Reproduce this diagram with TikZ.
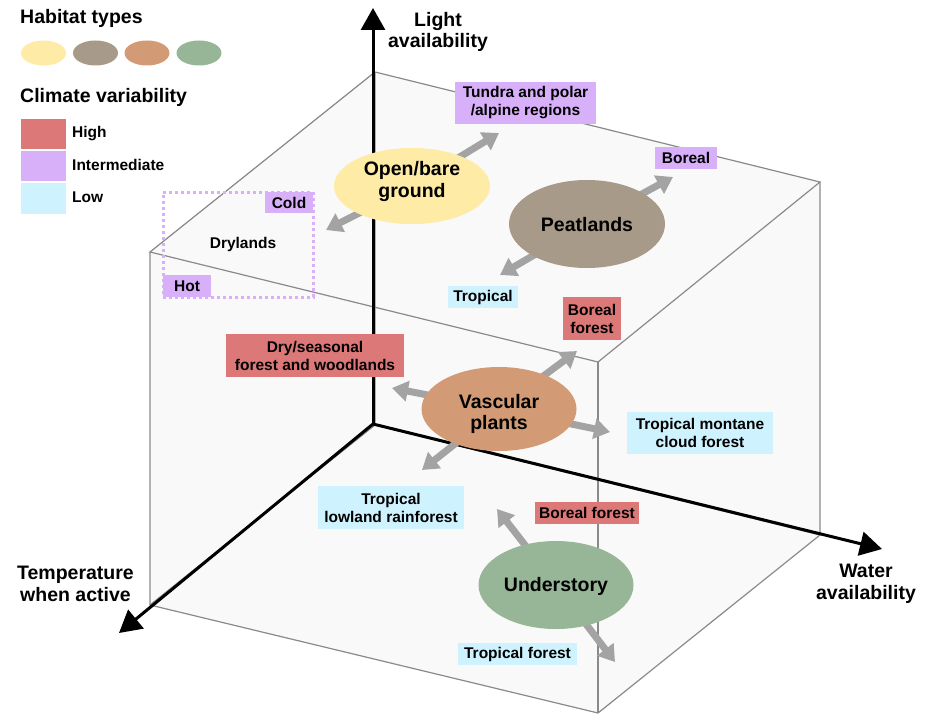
\documentclass[tikz,border=0pt]{standalone}
\usepackage{fontspec}
\setmainfont{Liberation Sans}
\usetikzlibrary{arrows.meta,shapes.geometric}
\definecolor{cHigh}{HTML}{DC7878}
\definecolor{cMid}{HTML}{D8B0FA}
\definecolor{cLow}{HTML}{CFF3FE}
\definecolor{cOpen}{HTML}{FDEBA6}
\definecolor{cPeat}{HTML}{A89A88}
\definecolor{cVasc}{HTML}{D29B75}
\definecolor{cUnder}{HTML}{97B697}
\definecolor{cCube}{HTML}{F9F9F9}
\definecolor{cEdge}{HTML}{8A8A8A}
\definecolor{cArr}{HTML}{A3A3A3}
\begin{document}
\begin{tikzpicture}[x=1pt,y=-1pt,
  big/.style={font=\fontsize{19.5}{21.5}\selectfont\bfseries, align=center, inner sep=0pt},
  small/.style={font=\fontsize{15.5}{18}\selectfont\bfseries, align=center, inner sep=0pt},
  hab/.style={ellipse, inner sep=0pt},
  tag/.style={small, rectangle},
  axisline/.style={line width=3pt, -{Triangle[width=24pt,length=22pt]}},
  garrow/.style={draw=cArr, line width=7pt, -{Triangle[width=20pt,length=16pt]}},
  cubeedge/.style={draw=cEdge, line width=1.2pt},
  swatch/.style={rectangle, minimum width=45pt, minimum height=30pt, inner sep=0pt},
  legell/.style={ellipse, minimum width=45pt, minimum height=25pt, inner sep=0pt},
]
\useasboundingbox (0,0) rectangle (928,714);
% cube
\coordinate (cB) at (375,72);
\coordinate (cL) at (150,252);
\coordinate (cF) at (598,362);
\coordinate (cR) at (820,182);
\coordinate (cBb) at (375,425);
\coordinate (cLb) at (150,605);
\coordinate (cFb) at (598,713);
\coordinate (cRb) at (820,535);
\fill[cCube] (cL)--(cB)--(cR)--(cRb)--(cFb)--(cLb)--cycle;
\draw[cubeedge] (cL)--(cB)--(cR)--(cF)--cycle;
\draw[cubeedge] (cL)--(cLb)--(cFb)--(cRb)--(cR);
\draw[cubeedge] (cF)--(cFb);
\draw[cubeedge] (cB)--(cBb) (cBb)--(cLb) (cBb)--(cRb);
% axes
\coordinate (O) at (373,424);
\coordinate (tipLight) at (373,8);
\coordinate (tipTemp) at (119,633);
\coordinate (tipWater) at (882,549);
\draw[axisline] (O) -- (tipLight);
\draw[axisline] (O) -- (tipTemp);
\draw[axisline] (O) -- (tipWater);
\node[big] (labLight) at (438,32) {Light\\availability};
\node[big] (labTemp) at (75.5,584) {Temperature\\when active};
\node[big] (labWater) at (866,584) {Water\\availability};
% legend
\node[big, anchor=west] (habhead) at (20,18.5) {Habitat types};
\node[legell, fill=cOpen] (l1) at (43.5,53) {};
\node[legell, fill=cPeat] (l2) at (95.5,53) {};
\node[legell, fill=cVasc] (l3) at (147,53) {};
\node[legell, fill=cUnder] (l4) at (199,53) {};
\node[big, anchor=west] (climhead) at (20,97.5) {Climate variability};
\node[swatch, fill=cHigh] (sH) at (43.5,134) {};
\node[swatch, fill=cMid] (sM) at (43.5,166) {};
\node[swatch, fill=cLow] (sL) at (43.5,198.5) {};
\node[small, anchor=west] (tH) at (72,134) {High};
\node[small, anchor=west] (tM) at (72,165) {Intermediate};
\node[small, anchor=west] (tL) at (72,197.5) {Low};
% drylands
\node[draw=cMid, line width=3pt, dash pattern=on 3pt off 3pt, minimum width=150pt, minimum height=105pt, inner sep=0pt] (dryrect) at (238,244.5) {};
\node[small] (drylands) at (243,244) {Drylands};
% habitat ellipses positions
\coordinate (pOpen) at (412,186);
\coordinate (pPeat) at (587,224);
\coordinate (pVasc) at (499,409);
\coordinate (pUnder) at (556,585);
% arrow tips
\coordinate (aO1) at (499,133);
\coordinate (aO2) at (326,230);
\coordinate (aP1) at (673,177);
\coordinate (aP2) at (500,275);
\coordinate (aV1) at (577,351);
\coordinate (aV2) at (392,388);
\coordinate (aV3) at (610,432);
\coordinate (aV4) at (422,470);
\coordinate (aU1) at (497,509);
\coordinate (aU2) at (615,662);
\draw[garrow] (pOpen) -- (aO1);
\draw[garrow] (pOpen) -- (aO2);
\draw[garrow] (pPeat) -- (aP1);
\draw[garrow] (pPeat) -- (aP2);
\draw[garrow] (pVasc) -- (aV1);
\draw[garrow] (pVasc) -- (aV2);
\draw[garrow] (pVasc) -- (aV3);
\draw[garrow] (pVasc) -- (aV4);
\draw[garrow] (pUnder) -- (aU1);
\draw[garrow] (pUnder) -- (aU2);
% ellipses
\node[hab, fill=cOpen, minimum width=156pt, minimum height=76pt] (open) at (pOpen) {};
\node[hab, fill=cPeat, minimum width=156pt, minimum height=88pt] (peat) at (pPeat) {};
\node[hab, fill=cVasc, minimum width=155pt, minimum height=84pt] (vasc) at (pVasc) {};
\node[hab, fill=cUnder, minimum width=155pt, minimum height=88pt] (under) at (pUnder) {};
\node[big] (openT) at (412,181.5) {Open/bare\\ground};
\node[big] (peatT) at (587,225) {Peatlands};
\node[big] (vascT) at (499,414) {Vascular\\plants};
\node[big] (underT) at (556,586) {Understory};
% tags
\node[tag, fill=cMid, minimum width=141pt, minimum height=42pt] (tundra) at (525.5,103) {Tundra and polar\\/alpine regions};
\node[tag, fill=cMid, minimum width=62pt, minimum height=22pt] (boreal1) at (686,158) {Boreal};
\node[tag, fill=cMid, minimum width=48pt, minimum height=21pt] (cold) at (289,202.5) {Cold};
\node[tag, fill=cMid, minimum width=48pt, minimum height=22pt] (hot) at (187,286) {Hot};
\node[tag, fill=cLow, minimum width=70pt, minimum height=22pt] (trop1) at (483,297) {Tropical};
\node[tag, fill=cHigh, minimum width=58pt, minimum height=43pt] (boreal2) at (592,318.5) {Boreal\\forest};
\node[tag, fill=cHigh, minimum width=178pt, minimum height=43pt] (dry) at (315,355.5) {Dry/seasonal\\forest and woodlands};
\node[tag, fill=cLow, minimum width=146pt, minimum height=42pt] (montane) at (700,433) {Tropical montane\\cloud forest};
\node[tag, fill=cLow, minimum width=146pt, minimum height=43pt] (lowland) at (391,507.5) {Tropical\\lowland rainforest};
\node[tag, fill=cHigh, minimum width=104pt, minimum height=22pt] (boreal3) at (587,513) {Boreal forest};
\node[tag, fill=cLow, minimum width=119pt, minimum height=22pt] (tropforest) at (517.5,654) {Tropical forest};
\end{tikzpicture}
\end{document}
